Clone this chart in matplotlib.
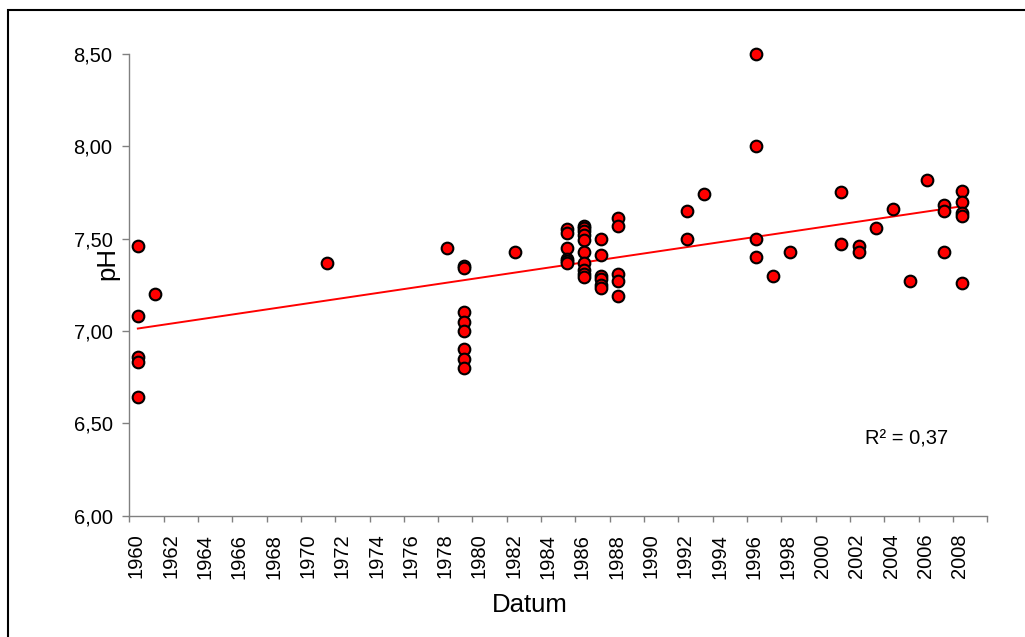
import numpy as np
import matplotlib
matplotlib.use("Agg")
import matplotlib.pyplot as plt
import matplotlib.transforms as mtransforms
from matplotlib.patches import Rectangle
from matplotlib.ticker import FuncFormatter

plt.rcParams['font.family'] = ['Liberation Sans', 'DejaVu Sans']

# Messwerte (Jahr, pH)
years = [1960.5, 1960.5, 1960.5, 1960.5, 1960.5,
         1961.5, 1971.5, 1978.5,
         1979.5, 1979.5, 1979.5, 1979.5, 1979.5, 1979.5, 1979.5, 1979.5,
         1982.5,
         1985.5, 1985.5, 1985.5, 1985.5, 1985.5, 1985.5,
         1986.5, 1986.5, 1986.5, 1986.5, 1986.5, 1986.5, 1986.5, 1986.5, 1986.5, 1986.5,
         1987.5, 1987.5, 1987.5, 1987.5, 1987.5, 1987.5,
         1988.5, 1988.5, 1988.5, 1988.5, 1988.5,
         1992.5, 1992.5, 1993.5,
         1996.5, 1996.5, 1996.5, 1996.5,
         1997.5, 1998.5,
         2001.5, 2001.5, 2002.5, 2002.5, 2003.5, 2004.5, 2005.5, 2006.5,
         2007.5, 2007.5, 2007.5,
         2008.5, 2008.5, 2008.5, 2008.5, 2008.5]
ph = [7.46, 7.08, 6.86, 6.83, 6.64,
      7.20, 7.37, 7.45,
      7.35, 7.34, 7.10, 7.05, 7.00, 6.90, 6.85, 6.80,
      7.43,
      7.55, 7.53, 7.45, 7.39, 7.38, 7.37,
      7.57, 7.56, 7.54, 7.52, 7.49, 7.43, 7.37, 7.33, 7.31, 7.29,
      7.50, 7.41, 7.30, 7.28, 7.25, 7.23,
      7.61, 7.57, 7.31, 7.27, 7.19,
      7.65, 7.50, 7.74,
      8.50, 8.00, 7.50, 7.40,
      7.30, 7.43,
      7.75, 7.47, 7.46, 7.43, 7.56, 7.66, 7.27, 7.82,
      7.68, 7.65, 7.43,
      7.76, 7.70, 7.64, 7.62, 7.26]

x_ticks = list(range(1960, 2011, 2))
x_labels = [str(t) for t in range(1960, 2009, 2)] + ['']
y_ticks = [6.0, 6.5, 7.0, 7.5, 8.0, 8.5]
r2_text = 'R² = 0,37'

years = np.array(years)
ph = np.array(ph)

fig = plt.figure(figsize=(10.25, 6.37), dpi=100)
ax = fig.add_axes([0.1261, 0.1906, 0.8371, 0.7246])

# Trendlinie (linear)
k, d = np.polyfit(years, ph, 1)
xs = np.array([years.min(), years.max()])
ax.plot(xs, k * xs + d, color='#ff0000', lw=1.4, zorder=2)

ax.plot(years, ph, 'o', ms=8.4, mfc='#ff0000', mec='black', mew=1.5,
        zorder=3, clip_on=False)

ax.set_xlim(1960, 2010)
ax.set_ylim(6.0, 8.5)
ax.set_xticks(x_ticks)
ax.set_xticklabels(x_labels, rotation=90, fontsize=14.5)
ax.set_yticks(y_ticks)
ax.yaxis.set_major_formatter(FuncFormatter(lambda v, p: f"{v:.2f}".replace('.', ',')))
ax.tick_params(axis='y', labelsize=14.5, length=5, width=1, color='#808080', pad=7)
ax.tick_params(axis='x', length=4, width=1, color='#808080', pad=9)

offset = mtransforms.ScaledTranslation(0.07, 0, fig.dpi_scale_trans)
for lab in ax.get_xticklabels():
    lab.set_transform(lab.get_transform() + offset)

for s in ['top', 'right']:
    ax.spines[s].set_visible(False)
for s in ['left', 'bottom']:
    ax.spines[s].set_color('#808080')
    ax.spines[s].set_linewidth(1)

ax.set_xlabel('Datum', fontsize=18.5)
ax.xaxis.set_label_coords(0.467, -0.194)
ax.xaxis.label.set_va('center')
ax.set_ylabel('pH', fontsize=18.5)
ax.yaxis.set_label_coords(-0.025, 0.547)
ax.yaxis.label.set_va('center')

ax.text(0.906, 0.165, r2_text, transform=ax.transAxes, fontsize=14.5,
        ha='center', va='center')

# Rahmen um das Diagramm
fig.patches.append(Rectangle((8 / 1025, -0.2), 1.5, 1.2 - 10 / 637,
                             transform=fig.transFigure, fill=False,
                             lw=1.5, ec='black', clip_on=False))

plt.savefig('out.png', dpi=100)
